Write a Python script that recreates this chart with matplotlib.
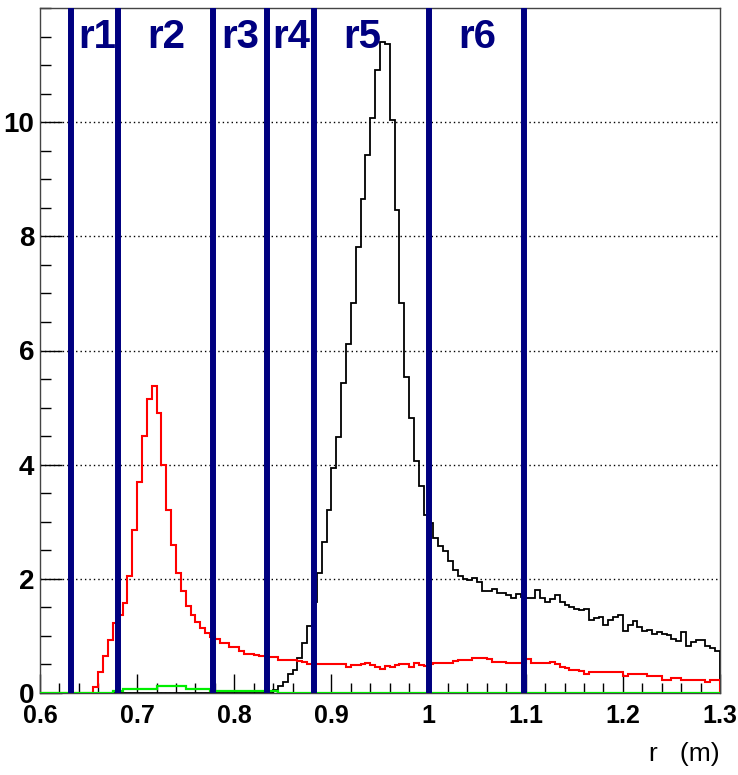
import numpy as np
import matplotlib.pyplot as plt
from matplotlib.ticker import MultipleLocator, FixedLocator

# histogram binning: 140 bins of 0.005 m between 0.6 and 1.3
x_lo, x_hi, n_bins = 0.6, 1.3, 140
edges = np.linspace(x_lo, x_hi, n_bins + 1)

# black histogram (bin contents, left to right)
black = [
    0, 0, 0, 0, 0, 0, 0, 0, 0, 0,
    0, 0, 0, 0, 0, 0, 0, 0, 0, 0,
    0, 0, 0, 0, 0, 0, 0, 0, 0, 0,
    0, 0, 0, 0, 0, 0, 0, 0, 0, 0,
    0, 0, 0, 0, 0, 0, 0, 0, 0.06, 0.12,
    0.20, 0.34, 0.41, 0.61, 0.87, 1.18, 1.60, 2.10, 2.65, 3.21,
    3.95, 4.49, 5.43, 6.12, 6.84, 7.82, 8.66, 9.43, 10.07, 10.92,
    11.41, 11.37, 10.03, 8.47, 6.84, 5.53, 4.81, 4.07, 3.63, 3.12,
    2.97, 2.71, 2.57, 2.48, 2.31, 2.16, 2.05, 2.00, 1.98, 2.02,
    1.95, 1.79, 1.79, 1.83, 1.76, 1.76, 1.72, 1.66, 1.73, 1.68,
    1.66, 1.66, 1.81, 1.66, 1.60, 1.64, 1.72, 1.60, 1.55, 1.50,
    1.48, 1.45, 1.48, 1.28, 1.32, 1.33, 1.19, 1.28, 1.33, 1.36,
    1.09, 1.19, 1.26, 1.15, 1.09, 1.10, 1.03, 1.07, 1.03, 1.02,
    0.94, 0.91, 1.07, 0.82, 0.90, 0.93, 0.93, 0.82, 0.78, 0.74,
]

# red histogram
red = [
    0, 0, 0, 0, 0, 0, 0, 0, 0, 0,
    0, 0.11, 0.37, 0.64, 0.92, 1.22, 1.37, 1.57, 2.05, 2.86,
    3.70, 4.50, 5.15, 5.38, 4.90, 4.00, 3.21, 2.59, 2.11, 1.79,
    1.53, 1.36, 1.25, 1.14, 1.05, 0.98, 0.94, 0.87, 0.87, 0.81,
    0.80, 0.73, 0.68, 0.68, 0.67, 0.64, 0.64, 0.63, 0.63, 0.58,
    0.57, 0.57, 0.57, 0.56, 0.54, 0.51, 0.50, 0.50, 0.50, 0.50,
    0.50, 0.50, 0.50, 0.45, 0.49, 0.49, 0.50, 0.53, 0.49, 0.46,
    0.42, 0.47, 0.46, 0.49, 0.50, 0.50, 0.46, 0.53, 0.49, 0.47,
    0.50, 0.52, 0.53, 0.53, 0.53, 0.56, 0.57, 0.57, 0.58, 0.61,
    0.62, 0.62, 0.59, 0.54, 0.55, 0.55, 0.52, 0.53, 0.53, 0.53,
    0.60, 0.52, 0.52, 0.52, 0.52, 0.54, 0.50, 0.46, 0.43, 0.40,
    0.40, 0.38, 0.34, 0.36, 0.36, 0.36, 0.36, 0.36, 0.36, 0.36,
    0.30, 0.33, 0.33, 0.34, 0.33, 0.30, 0.30, 0.30, 0.22, 0.22,
    0.27, 0.27, 0.22, 0.22, 0.22, 0.22, 0.22, 0.19, 0.22, 0.23,
]

# green histogram
green = [
    0, 0, 0, 0, 0, 0, 0, 0, 0, 0,
    0, 0, 0, 0, 0, 0.03, 0.03, 0.07, 0.07, 0.07,
    0.07, 0.07, 0.07, 0.07, 0.12, 0.12, 0.12, 0.12, 0.12, 0.12,
    0.07, 0.07, 0.07, 0.07, 0.07, 0.04, 0.04, 0.04, 0.04, 0.04,
    0.04, 0.04, 0.04, 0.04, 0.04, 0.04, 0.04, 0.04, 0.04, 0,
    0, 0, 0, 0, 0, 0, 0, 0, 0, 0,
    0, 0, 0, 0, 0, 0, 0, 0, 0, 0,
    0, 0, 0, 0, 0, 0, 0, 0, 0, 0,
    0, 0, 0, 0, 0, 0, 0, 0, 0, 0,
    0, 0, 0, 0, 0, 0, 0, 0, 0, 0,
    0, 0, 0, 0, 0, 0, 0, 0, 0, 0,
    0, 0, 0, 0, 0, 0, 0, 0, 0, 0,
    0, 0, 0, 0, 0, 0, 0, 0, 0, 0,
    0, 0, 0, 0, 0, 0, 0, 0, 0, 0,
]

# region boundaries and labels
region_bounds = [0.632, 0.680, 0.778, 0.834, 0.882, 1.000, 1.098]
region_names = ["r1", "r2", "r3", "r4", "r5", "r6"]
region_label_x = [0.659, 0.730, 0.806, 0.859, 0.932, 1.050]

y_major = [0, 2, 4, 6, 8, 10]
x_major = [0.6, 0.7, 0.8, 0.9, 1.0, 1.1, 1.2, 1.3]
x_major_labels = ["0.6", "0.7", "0.8", "0.9", "1", "1.1", "1.2", "1.3"]

navy = "#000080"
tick_font = ["Liberation Sans", "DejaVu Sans"]

fig = plt.figure(figsize=(7.38, 7.75), dpi=100)
ax = fig.add_axes([40 / 738, 82 / 775, 680 / 738, 685 / 775])

ax.stairs(black, edges, baseline=0, color="black", linewidth=1.3, zorder=3)
ax.stairs(red, edges, baseline=0, color="#ff0000", linewidth=1.5, zorder=4)
ax.stairs(green, edges, baseline=None, color="#00ee00", linewidth=1.6, zorder=5)

for xb in region_bounds:
    ax.axvline(xb, color=navy, linewidth=4.3, zorder=6)

for name, xl in zip(region_names, region_label_x):
    ax.text(xl, 11.5, name, color=navy, fontsize=29, fontweight="bold",
            family=["Liberation Sans", "DejaVu Sans"],
            ha="center", va="center", zorder=7)

ax.set_xlim(x_lo, x_hi)
ax.set_ylim(0, 12)

ax.xaxis.set_major_locator(FixedLocator(x_major))
ax.xaxis.set_minor_locator(MultipleLocator(0.02))
ax.yaxis.set_major_locator(FixedLocator(y_major))
ax.yaxis.set_minor_locator(MultipleLocator(0.5))
ax.set_xticklabels(x_major_labels)

ax.tick_params(axis="x", which="major", direction="in", length=14, width=1,
               pad=8, labelsize=18, top=False)
ax.tick_params(axis="x", which="minor", direction="in", length=7, width=1,
               top=False)
ax.tick_params(axis="y", which="major", direction="in", length=16, width=1,
               pad=4, labelsize=20, right=False)
ax.tick_params(axis="y", which="minor", direction="in", length=8, width=1,
               right=False)
for lab in ax.get_xticklabels() + ax.get_yticklabels():
    lab.set_family(tick_font)
    lab.set_fontweight("bold")

ax.yaxis.grid(True, which="major", linestyle=(0, (1, 2.2)), color="black",
              linewidth=1.0)
ax.set_axisbelow(True)

for sp in ax.spines.values():
    sp.set_color("#444444")
    sp.set_linewidth(1.0)

ax.set_xlabel("r   (m)", loc="right", fontsize=19, family=tick_font,
              labelpad=10)

fig.savefig("out.png", dpi=100)
